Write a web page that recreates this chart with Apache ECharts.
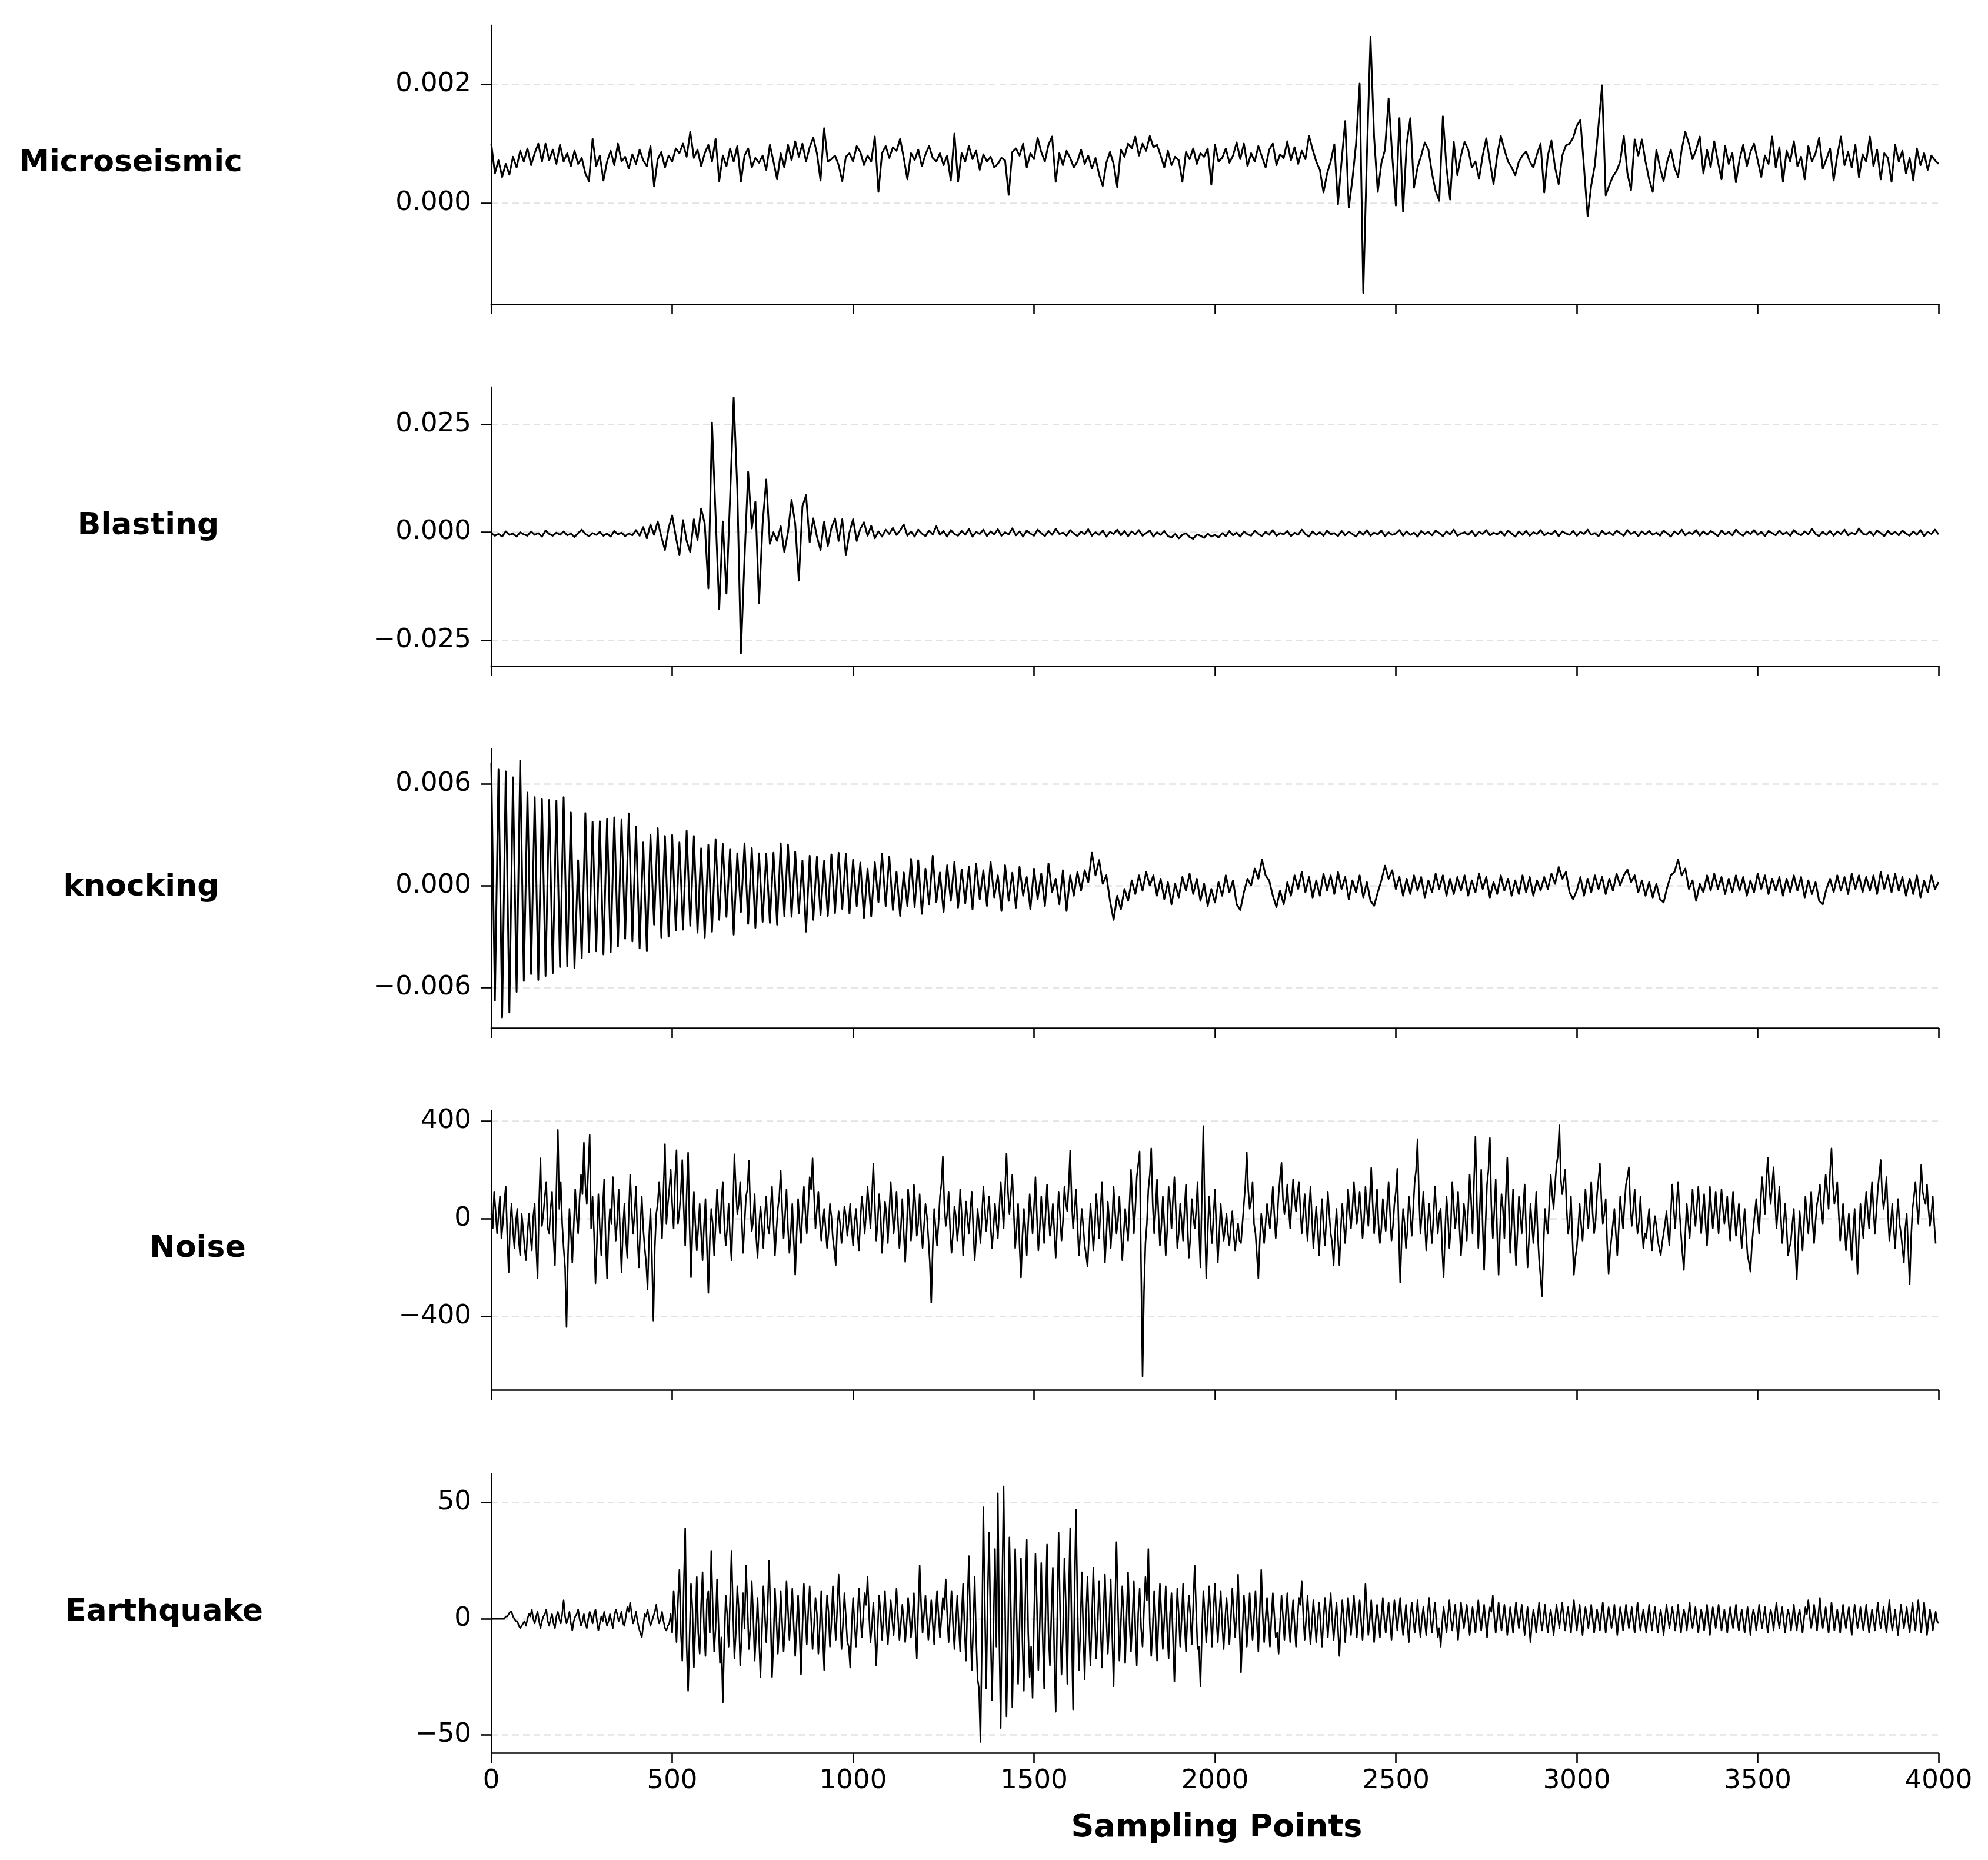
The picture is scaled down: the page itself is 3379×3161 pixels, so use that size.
<!DOCTYPE html>
<html>
<head>
<meta charset="utf-8">
<script src="https://cdn.jsdelivr.net/npm/echarts@6/dist/echarts.min.js"></script>
<style>
html,body{margin:0;padding:0;background:#fff}
#c{width:3379px;height:3161px}
</style>
</head>
<body>
<div id="c"></div>
<script>
// ---------------- DATA ----------------
const panelNames = ['Microseismic', 'Blasting', 'knocking', 'Noise', 'Earthquake'];
const xTickStep = 500;              // sampling-point tick spacing
const xMax = 4000;
const xAxisTitle = 'Sampling Points';

// y tick values per panel
const microTicks = [0, 0.002];
const blastTicks = [-0.025, 0, 0.025];
const knockTicks = [-0.006, 0, 0.006];
const noiseTicks = [-400, 0, 400];
const quakeTicks = [-50, 0, 50];

// Microseismic: one value every 10 samples, in units of 1e-5
const microStep = 10, microUnit = 1e-5;
const microseismic = [
100,50,72,44,66,48,78,60,88,70,
92,64,84,100,70,100,72,90,66,98,
70,84,62,88,66,76,50,37,108,62,
80,38,70,88,64,100,70,78,58,82,
66,90,72,62,96,28,74,86,60,80,
70,92,84,100,78,120,76,90,62,84,
98,70,108,37,80,62,92,70,96,36,
80,92,60,76,68,80,56,98,70,40,
84,60,98,72,104,78,100,70,94,110,
84,38,126,70,74,80,64,37,78,84,
70,96,86,64,80,70,112,19,84,96,
76,94,88,108,76,40,84,72,90,62,
82,96,76,70,84,64,80,38,117,36,
84,70,96,74,88,56,82,70,78,60,
66,76,72,14,86,92,80,100,60,84,
74,110,86,70,98,112,36,84,64,88,
76,60,70,90,66,80,58,76,48,29,
68,86,66,27,90,78,100,92,112,80,
100,88,113,94,98,80,60,88,64,78,
72,36,86,74,92,66,84,78,92,31,
98,70,76,92,68,80,102,74,100,62,
84,70,96,78,60,90,100,64,82,76,
104,72,94,66,88,74,113,90,70,56,
18,50,70,99,-2,70,138,-7,40,100,
201,-151,80,279,110,19,67,90,176,80,
-4,143,-14,100,143,26,60,80,102,90,
50,20,4,146,60,6,103,47,80,103,
90,60,70,41,80,109,70,32,80,113,
90,70,60,47,70,80,87,70,60,82,
100,18,80,105,60,32,80,97,100,110,
130,140,60,-22,30,64,130,198,13,30,
45,54,70,113,50,22,107,80,107,70,
40,19,89,60,37,70,90,60,44,90,
120,100,74,90,112,50,90,60,104,70,
40,96,66,84,35,74,98,62,86,100,
72,44,80,66,112,60,94,36,88,70,
104,62,78,40,96,70,84,110,58,74,
92,38,80,112,64,86,60,98,44,82,
70,112,62,90,40,84,76,36,98,70,
88,50,76,38,92,64,84,56,80,72,
66
];

// Blasting: one value every 10 samples, in units of 1e-4
const blastStep = 10, blastUnit = 1e-4;
const blasting = [
-2,-8,-4,-10,2,-6,-3,-10,0,-5,
-8,2,-6,-2,-10,4,-4,-8,-1,-6,
2,-7,-3,-11,-2,6,-4,-9,-2,-6,
1,-8,-3,-10,3,-5,-1,-9,-3,-7,
5,-8,12,-14,18,-6,25,-10,-41,10,
39,-10,-53,28,-20,-46,30,-18,55,20,
-130,254,40,-178,25,-142,80,312,100,-281,
-60,140,9,71,-165,20,122,-27,0,-20,
14,-46,0,75,20,-112,60,86,-23,32,
-10,-41,25,-32,10,32,-20,30,-53,0,
30,-20,8,23,-8,15,-14,2,-10,6,
-4,10,-6,4,18,-8,2,-10,6,-3,
-9,4,-5,14,-6,3,-10,5,-4,-8,
3,-6,8,-10,1,-4,6,-9,2,-5,
7,-8,0,-5,9,-7,2,-10,4,-3,
-8,6,-2,-9,3,-6,8,-4,-1,-8,
5,-3,-9,2,-5,7,-8,0,-6,4,
-10,1,-4,6,-7,3,-9,2,-5,5,
-8,-2,4,-10,0,-6,3,-9,-12,-4,
-14,-6,-2,-11,-15,-5,-8,-13,-3,-10,
-6,-12,-2,-9,3,-7,-1,-10,2,-5,
-8,4,-4,-9,1,-6,5,-8,-2,-5,
3,-9,-1,-6,6,-4,-10,2,-6,0,
-8,4,-5,-2,-9,3,-7,1,-4,-10,
2,-6,5,-8,-1,-5,4,-9,0,-6,
-3,5,-8,2,-6,-1,-10,3,-4,1,
-7,4,-2,-9,2,-5,6,-8,-3,0,
-6,3,-9,1,-4,5,-7,-1,-5,2,
-8,4,-3,-10,2,-6,3,-8,0,-4,
5,-7,-1,-5,4,-9,2,-3,-6,3,
-8,1,-4,6,-6,-2,-9,3,-5,0,
-7,4,-2,-8,5,-4,1,-9,2,-5,
3,-6,-1,-8,4,-3,-10,2,-5,6,
-7,0,-4,5,-8,2,-6,3,-2,-9,
4,-5,1,-7,6,-3,-8,2,-4,5,
-6,1,-9,3,-2,-7,4,-5,0,-8,
5,-3,-7,2,-5,8,-4,-9,1,-6,
3,-8,2,-4,6,-7,-1,-5,9,-3,
-6,2,-8,4,-2,-9,3,-5,1,-7,
4,-3,-8,2,-6,5,-9,1,-4,6,
-5
];

// knocking: one value every 10 samples, in units of 1e-5
const knockStep = 10, knockUnit = 1e-5;
const knocking = [
722,-679,684,-778,673,-749,638,-627,737,-563,
548,-522,521,-557,509,-534,505,-516,501,-481,
521,-476,431,-487,149,-429,428,-394,376,-388,
379,-406,393,-394,402,-359,388,-313,426,-330,
347,-371,254,-388,298,-231,338,-307,292,-301,
298,-266,254,-260,323,-237,292,-278,219,-307,
240,-272,274,-202,245,-185,216,-290,190,-156,
249,-226,221,-249,190,-214,187,-220,193,-231,
249,-181,242,-184,199,-162,147,-272,176,-202,
170,-173,147,-179,184,-162,193,-138,187,-165,
152,-121,135,-191,100,-181,137,-98,187,-121,
170,-144,81,-179,77,-121,158,-127,149,-167,
100,-110,176,-98,77,-156,120,-90,140,-130,
95,-105,110,-140,130,-80,90,-120,140,-70,
60,-150,120,-90,75,-130,110,-60,50,-140,
100,-80,70,-120,130,-40,40,-110,90,-150,
60,-60,80,-30,90,20,193,60,150,10,
60,-90,-202,-60,-140,-20,-90,30,-50,60,
-30,80,0,60,-60,40,-80,20,-110,10,
-70,50,-30,70,-50,40,-90,10,-120,-20,
-100,20,-60,60,-40,30,-110,-144,-40,40,
0,100,40,152,60,30,-60,-127,-30,-110,
20,-60,60,-20,80,-40,50,-70,30,-60,
70,-30,60,-50,80,-20,50,-80,30,-40,
60,-70,20,-90,-119,-40,30,117,40,90,
-20,50,-60,40,-50,60,-30,50,-70,30,
-40,70,-20,60,-60,40,-50,50,-30,60,
-60,30,-40,70,-20,50,-70,20,-50,60,
-30,40,-60,30,-50,60,-40,50,-60,30,
-30,50,-20,70,10,109,40,80,-40,-80,
-30,50,-60,40,-40,60,-20,50,-50,40,
-30,70,0,60,94,20,60,-40,30,-60,
20,-70,10,-80,-100,-10,60,80,152,60,
100,-20,30,-90,10,-40,60,-30,70,-20,
50,-50,40,-40,60,-30,50,-60,30,-40,
70,-20,60,-50,40,-30,50,-60,40,-40,
60,-30,50,-70,30,-50,20,-90,-110,-20,
40,-40,60,-30,50,-50,70,-20,60,-40,
50,-30,60,-50,80,-20,60,-40,70,-30,
50,-60,40,-50,60,-70,30,-40,60,-20,
20
];

// Noise: one value every 4 samples, raw units
const noiseStep = 4, noiseUnit = 1;
const noise = [
20,-40,110,30,-60,10,90,-80,-20,70,130,-60,-221,-20,60,-50,-120,-10,40,-90,-150,20,-40,-120,-170,-60,20,-70,-130,10,60,-110,-245,60,247,-30,20,90,150,-40,-60,40,110,-80,-190,120,363,40,
150,-20,-120,-200,-444,-150,40,-60,-180,-30,120,10,-60,80,180,100,311,140,60,200,343,-40,90,-60,-265,-100,100,-40,-150,40,160,-80,-245,-60,40,-20,170,50,-90,-10,120,-60,-220,-40,60,-80,-160,20,180,40,
-60,20,130,-70,-200,-30,90,-40,-120,-180,-289,-80,40,-150,-418,-120,20,60,150,40,-80,120,305,-20,60,120,200,60,-40,160,280,-20,30,110,240,40,-110,100,270,-30,-240,-50,110,-20,-130,-40,60,-60,-170,-30,
80,-120,-304,-90,40,-20,-150,-30,120,20,-60,70,150,-20,-110,-40,60,-80,-170,30,263,120,20,60,150,10,-140,-20,90,120,238,40,-50,-10,100,-70,-160,-40,50,-20,-120,10,90,-30,-60,40,130,-20,-150,-50,
40,90,196,40,-80,10,120,-40,-140,-50,60,-90,-229,-60,80,-20,-100,20,130,30,-60,50,170,120,247,100,-40,40,110,-10,-90,-20,40,-40,-120,-60,60,10,-80,-130,-190,-40,30,-20,-100,-30,50,10,-70,-10,
60,-40,-110,-20,40,-50,-130,-10,90,30,-60,20,130,50,-40,90,224,60,-90,-10,100,10,-140,-30,70,20,-100,30,150,40,-60,0,110,-10,-120,-40,80,-60,-177,-50,120,40,-90,10,140,60,-70,-20,100,-40,
-120,-30,60,10,-80,-180,-344,-120,40,-40,-110,-20,90,140,254,60,-30,20,110,-40,-140,-60,50,10,-90,-20,120,20,-150,-50,70,0,-60,30,110,-40,-170,-80,40,-20,-100,10,130,40,-50,20,90,-30,-120,-40,
60,-10,-80,40,150,60,-40,120,266,110,20,100,180,30,-120,-40,60,-110,-241,-70,40,-40,-150,-20,100,30,-60,50,170,10,-130,-40,90,-10,-100,20,140,30,-70,-20,60,-50,-160,-30,110,10,-90,-10,130,60,
30,140,279,80,-40,30,120,-20,-150,-60,40,-30,-110,-150,-197,-70,60,-20,-130,-40,100,20,-80,40,150,-30,-180,-70,70,-10,-120,-20,130,30,-60,-10,90,-40,-170,-60,40,-30,-90,60,200,70,-60,40,170,220,
275,-200,-646,-300,-100,-20,120,180,287,60,-60,40,160,20,-110,-30,90,-20,-150,-50,130,60,-40,80,170,30,-120,-60,60,-10,-90,40,140,-20,-160,-80,80,10,-40,30,150,-40,-200,100,379,20,-245,-60,90,-20,
-100,10,120,-40,-180,-60,60,-20,-90,-40,20,-60,-110,-30,30,-70,-130,-60,-20,-90,-100,-20,60,140,271,120,40,70,150,-20,-60,-150,-245,-90,20,-40,-100,-20,60,10,-40,40,130,20,-80,-10,100,170,228,80,
20,70,140,40,-40,60,160,80,30,100,150,40,-60,20,100,-10,-90,30,130,10,-120,-30,50,-40,-150,-20,80,-30,-110,0,110,20,-60,-100,-190,-60,40,-80,-190,-40,60,-20,-100,10,120,30,-40,40,150,60,
-20,30,110,20,-80,-10,130,40,-30,80,208,60,-60,30,120,-20,-100,-40,80,10,-50,60,150,20,-90,-30,60,110,204,-40,-261,-90,40,-20,-120,-50,90,20,-70,40,150,200,325,90,-60,20,110,-10,-130,-30,
60,-20,-100,10,130,30,-60,20,40,-120,-240,-60,90,10,-120,-30,150,50,-40,20,110,-40,-150,-60,60,10,-90,40,180,80,-60,150,336,60,-120,40,200,-30,-210,-20,140,200,330,50,-80,30,160,-60,-230,-40,
100,40,-80,100,249,60,-140,-20,120,-50,-190,-60,90,20,-60,40,140,-40,-200,-80,60,-20,-100,-10,110,-60,-170,-240,-317,-120,40,-30,-60,60,180,100,40,140,220,260,382,160,100,150,200,40,-60,-20,90,-80,
-230,-160,-120,-40,60,-20,-90,10,120,40,-40,60,150,20,-60,-10,100,160,225,80,-20,20,80,-100,-225,-140,-80,-20,40,-60,-150,-40,90,20,-40,60,140,170,210,60,-30,40,120,10,-60,-10,90,-30,-120,-60,
-80,-20,40,-60,-130,-50,10,-30,-90,-120,-150,-100,-60,-20,30,-50,-110,20,140,40,-40,60,150,30,-60,-140,-210,-60,60,-10,-80,20,120,40,-30,50,130,20,-60,30,100,-20,-110,10,130,40,-40,20,110,20,
-60,40,120,40,-20,30,90,-20,-90,10,110,20,-70,-10,60,-30,-120,-40,40,-60,-150,-180,-217,-110,-40,20,80,10,-60,60,170,100,20,160,249,130,60,140,210,80,-40,40,130,10,-100,-20,60,-40,-150,-120,
-90,-20,40,-120,-249,-100,30,-40,-130,-20,90,10,-60,30,110,-20,-100,-10,60,90,140,40,-20,100,180,120,40,190,287,140,60,100,150,20,-90,-20,60,-30,-130,-60,20,-80,-170,-50,40,-100,-225,-70,60,-30,
-80,20,110,30,-40,60,150,40,-60,30,120,180,240,100,40,90,170,20,-90,-20,60,-40,-120,-10,80,-20,-60,-120,-180,-40,20,-120,-269,-80,40,90,150,60,-20,100,220,110,80,60,140,40,-30,20,90,-20,
-102
];

// Earthquake: one value every 4 samples, raw units
const quakeStep = 4, quakeUnit = 1;
const earthquake = [
0,0,0,0,0,0,0,0,0,0,1,1,2,3,3,1,0,-1,-1,-3,-4,-3,-2,-1,-3,0,2,1,4,0,-2,1,3,-1,-4,-1,1,2,4,-1,-3,0,2,-2,-4,1,3,0,-2,2,
8,1,-2,0,3,-2,-5,-1,1,2,4,0,-3,-1,2,-2,-4,0,3,1,-2,2,4,-1,-5,-2,1,-1,3,0,-3,-1,2,-1,-4,1,4,2,-1,1,3,-2,-3,1,5,3,7,2,-2,0,
3,-1,-4,-6,-8,-3,2,1,4,0,-3,-1,1,3,6,1,-2,0,3,-1,-4,-5,-3,-2,2,-6,12,4,-10,8,21,-6,-18,14,39,-12,-31,-8,15,4,-21,-4,18,-6,-15,6,20,-4,-16,8,
12,-6,29,6,-14,-4,17,-2,-19,-8,-36,-10,10,2,-12,8,29,4,-17,-6,14,4,-20,-8,11,-4,23,6,-13,-4,16,2,-18,-6,9,-8,-25,-6,14,2,-10,6,25,0,-25,-10,13,0,-15,-4,
12,-2,-14,-4,16,4,-9,2,13,-3,-16,-2,10,-6,-24,-4,15,2,-11,3,14,0,-13,-3,9,2,-15,-3,12,-6,-22,-5,10,3,-12,-2,14,2,-9,4,19,3,-13,-2,11,1,-10,-12,-21,-3,
9,-2,-12,0,13,2,-8,1,11,6,18,2,-10,-3,7,-5,-20,-4,10,2,-9,1,12,-2,-11,-1,8,0,-7,2,13,1,-9,-2,6,-1,-10,-2,9,1,-8,0,11,-4,-17,4,23,6,-6,2,
10,0,-9,-1,8,-2,-11,1,12,2,-8,0,9,4,17,2,-10,1,12,-2,-13,-1,10,-3,-14,2,15,-4,-18,6,27,-2,-22,-4,18,-8,-26,-30,-53,-10,48,6,-30,10,37,-6,-35,-4,30,-12,
54,-8,-47,12,57,6,-42,-8,35,4,-38,-6,30,2,-28,-4,26,-10,-31,8,34,-6,-25,-12,-34,0,28,6,-22,-2,24,-8,-30,4,32,-6,-20,2,22,-16,-40,-2,37,4,-24,-6,26,6,-28,10,
39,-4,-39,10,47,8,-22,-6,20,-4,-26,2,18,-4,-20,0,22,2,-17,-2,16,-4,-21,2,19,0,-15,-2,17,-6,-29,4,33,6,-18,-2,14,0,-19,2,20,-2,-14,0,16,-4,-20,2,13,-4,
-12,4,18,8,30,-2,-16,-4,12,0,-18,-2,15,2,-13,0,14,-4,-17,2,11,-8,-27,-6,13,2,-12,0,15,-2,-14,0,10,2,-11,6,23,4,-13,-12,-29,-6,12,2,-10,0,14,2,-12,4,
15,0,-10,2,12,-2,-13,-1,9,1,-11,0,13,2,-8,4,19,-4,-23,-6,10,2,-12,-2,11,0,-9,1,12,-2,-14,4,21,2,-10,0,9,-1,-12,0,11,2,-8,-6,-15,-2,10,1,-9,2,
11,0,-10,-1,8,-2,-12,-1,9,6,16,2,-9,0,10,-1,-11,-2,8,0,-10,-1,7,-2,-12,0,9,1,-8,2,11,0,-9,-1,7,-4,-16,-2,8,0,-10,1,9,0,-7,2,10,1,-8,0,
8,-1,-9,2,15,3,-7,0,8,-2,-10,-1,6,0,-8,1,9,0,-6,1,7,-1,-9,0,8,1,-5,2,9,0,-7,-1,6,-2,-10,0,7,1,-6,0,8,-1,-8,0,5,-1,-7,2,9,0,
-6,1,7,-1,-8,-4,-12,-2,5,0,-6,1,8,0,-5,1,6,-2,-9,0,7,1,-4,1,6,0,-7,-1,5,0,-6,2,8,0,-5,1,6,-1,-8,0,5,3,10,1,-6,0,7,0,-5,1,
6,0,-7,-1,5,0,-6,1,7,1,-4,1,6,-1,-7,0,5,-3,-10,-2,4,0,-6,1,7,0,-5,0,6,-1,-6,0,4,-1,-7,0,6,1,-4,2,7,0,-5,1,5,-1,-6,2,8,1,
-5,1,6,-1,-7,0,5,1,-4,1,6,0,-6,-1,4,0,-5,2,7,0,-6,0,5,1,-4,0,6,-1,-7,0,5,1,-5,0,6,1,-4,0,5,-1,-6,1,7,0,-5,0,4,-1,-6,0,
6,0,-5,1,5,-1,-6,0,4,-1,-7,0,6,1,-4,0,5,1,-5,0,6,-1,-6,0,4,1,-5,1,7,0,-4,0,5,-1,-6,0,4,0,-5,1,6,-1,-7,0,5,1,-4,1,6,0,
-5,0,4,-1,-6,1,5,0,-4,1,6,-1,-5,0,4,-1,-6,0,5,-1,-7,0,4,1,-5,0,6,1,-4,0,5,-1,-6,0,4,1,-5,2,7,0,-4,1,5,-1,-6,0,4,1,-5,0,
6,0,-5,1,4,-1,-6,0,5,2,8,1,-4,0,6,1,-5,2,9,1,-4,0,5,-1,-6,0,7,1,-5,0,4,-1,-6,1,6,0,-4,1,5,-1,-7,0,6,1,-4,0,5,-1,-5,0,
6,0,-6,-1,4,0,-5,1,7,0,-4,1,5,-1,-6,1,8,0,-5,-1,4,-2,-7,0,6,1,-4,0,5,-1,-6,1,7,0,-5,2,8,0,-6,1,7,0,-7,-1,4,0,-5,-1,3,-1,
-2
];

// ---------------- CHART ----------------
const FONT = '"DejaVu Sans", "Liberation Sans", sans-serif';
const W = 3379, H = 3161;

const seriesDefs = [
  { values: microseismic, step: microStep, unit: microUnit, ticks: microTicks, dec: 3, range: [-0.0017, 0.00299], lw: 3 },
  { values: blasting,     step: blastStep, unit: blastUnit, ticks: blastTicks, dec: 3, range: [-0.0310, 0.0336], lw: 3 },
  { values: knocking,     step: knockStep, unit: knockUnit, ticks: knockTicks, dec: 3, range: [-0.0084, 0.00805], lw: 3 },
  { values: noise,        step: noiseStep, unit: noiseUnit, ticks: noiseTicks, dec: 0, range: [-701, 441], lw: 2.6 },
  { values: earthquake,   step: quakeStep, unit: quakeUnit, ticks: quakeTicks, dec: 0, range: [-57.7, 62.3], lw: 2.6 }
];

const gridTops = [43, 658, 1273, 1888, 2505];
const gridH = 474;
const gridLeft = 835, gridRight = 84;
const labelPos = [[222, 277], [252, 894], [240, 1508], [336, 2122], [279, 2740]];

function fmt(v, dec) {
  let s = Number(v).toFixed(dec);
  if (Math.abs(v) < 1e-12) s = (0).toFixed(dec);
  return s.replace('-', '\u2212');
}

const axisColor = '#000';
const grids = [], xAxes = [], yAxes = [], series = [];
seriesDefs.forEach((d, i) => {
  grids.push({ left: gridLeft, right: gridRight, top: gridTops[i], height: gridH, containLabel: false });
  xAxes.push({
    type: 'value', gridIndex: i, min: 0, max: xMax, interval: xTickStep,
    axisLine: { show: true, onZero: false, lineStyle: { color: axisColor, width: 2.6 } },
    axisTick: { show: true, inside: false, length: 17, lineStyle: { color: axisColor, width: 2.6 } },
    axisLabel: { show: i === 4, fontSize: 45, fontFamily: FONT, color: '#000', margin: 26,
                 formatter: (v) => String(Math.round(v)) },
    splitLine: { show: false }
  });
  yAxes.push({
    type: 'value', gridIndex: i, min: d.range[0], max: d.range[1],
    axisLine: { show: true, onZero: false, lineStyle: { color: axisColor, width: 2.6 } },
    axisTick: { show: true, inside: false, length: 17, customValues: d.ticks, lineStyle: { color: axisColor, width: 2.6 } },
    axisLabel: { show: true, customValues: d.ticks, fontSize: 45, fontFamily: FONT, color: '#000', margin: 34,
                 formatter: (v) => fmt(v, d.dec) },
    splitLine: { show: true, lineStyle: { color: '#e2e2e2', width: 2.6, type: [11, 7] } }
  });
  series.push({
    type: 'line', xAxisIndex: i, yAxisIndex: i,
    data: d.values.map((v, k) => [k * d.step, v * d.unit]),
    showSymbol: false, symbol: 'none', silent: true, animation: false,
    lineStyle: { color: '#000', width: d.lw, join: 'round' }
  });
});

const graphics = panelNames.map((n, i) => ({
  type: 'text', x: labelPos[i][0], y: labelPos[i][1], silent: true,
  style: { text: n, fontSize: 52, fontWeight: 'bold', fontFamily: FONT, fill: '#000',
           align: 'center', verticalAlign: 'middle', textAlign: 'center', textVerticalAlign: 'middle' }
}));
graphics.push({
  type: 'text', x: 2068, y: 3107, silent: true,
  style: { text: xAxisTitle, fontSize: 54, fontWeight: 'bold', fontFamily: FONT, fill: '#000',
           align: 'center', verticalAlign: 'middle', textAlign: 'center', textVerticalAlign: 'middle' }
});

const chart = echarts.init(document.getElementById('c'), null, { renderer: 'canvas', width: W, height: H });
chart.setOption({
  backgroundColor: '#fff',
  animation: false,
  grid: grids,
  xAxis: xAxes,
  yAxis: yAxes,
  series: series,
  graphic: graphics
});
</script>
</body>
</html>
